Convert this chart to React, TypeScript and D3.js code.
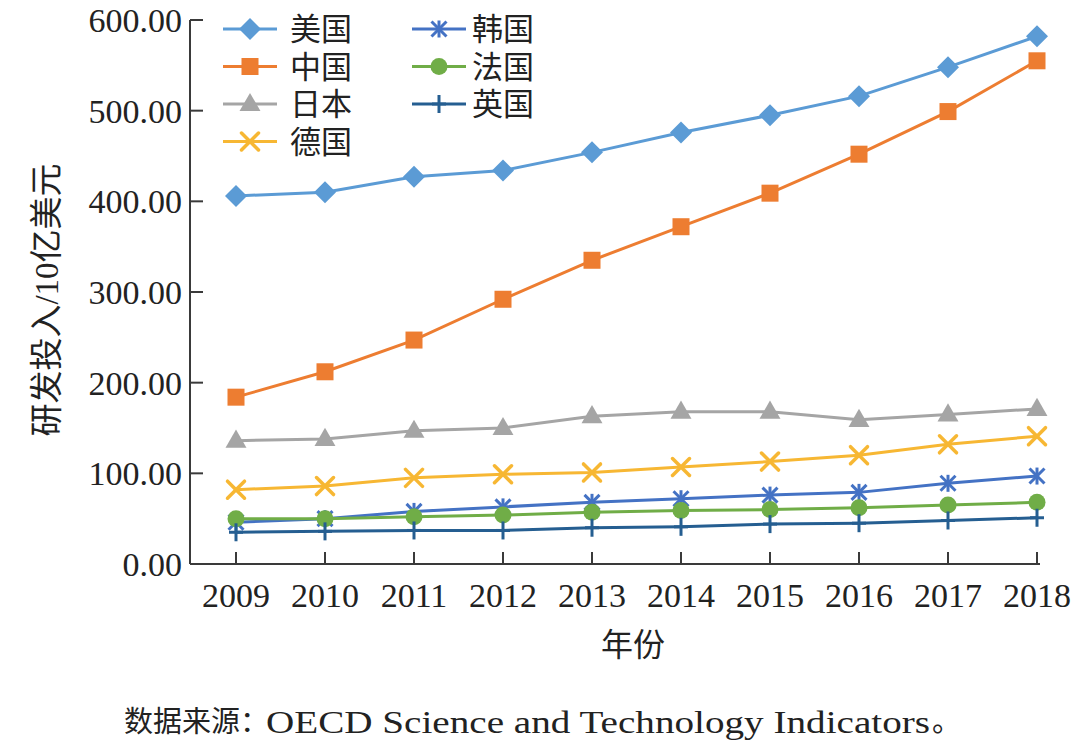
import React from "react";
import * as d3 from "d3";

const years = ["2009","2010","2011","2012","2013","2014","2015","2016","2017","2018"];
const usa = [406, 410, 427, 434, 454, 476, 495, 516, 548, 582];
const china = [184, 212, 247, 292, 335, 372, 409, 452, 499, 555];
const japan = [136, 138, 147, 150, 163, 168, 168, 159, 165, 171];
const germany = [82, 86, 95, 99, 101, 107, 113, 120, 132, 141];
const korea = [46, 50, 58, 63, 68, 72, 76, 79, 89, 97];
const france = [50, 50, 52, 54, 57, 59, 60, 62, 65, 68];
const uk = [35, 36, 37, 37, 40, 41, 44, 45, 48, 51];
const yTicks = [0, 100, 200, 300, 400, 500, 600];

const seriesNames = ["美国", "中国", "日本", "德国", "韩国", "法国", "英国"];
const seriesValues = [usa, china, japan, germany, korea, france, uk];
const seriesColors = ["#5B9BD5", "#ED7D31", "#A5A5A5", "#F7B733", "#4472C4", "#70AD47", "#255E91"];
const seriesMarkers = ["diamond", "square", "triangle", "x", "asterisk", "circle", "plus"];

const SERIF = "'Liberation Serif', 'DejaVu Serif', serif";
const CJK = "'Noto Sans CJK SC', 'Noto Sans', sans-serif";

function Marker({ type, x, y, color }: { type: string; x: number; y: number; color: string }) {
  if (type === "diamond") {
    const r = 11;
    return <path d={`M${x},${y - r}L${x + r},${y}L${x},${y + r}L${x - r},${y}Z`} fill={color} />;
  }
  if (type === "square") {
    return <rect x={x - 8.5} y={y - 8.5} width={17} height={17} fill={color} />;
  }
  if (type === "triangle") {
    const p = d3.symbol().type(d3.symbolTriangle).size(190)();
    return <path d={p || ""} transform={`translate(${x},${y + 1})`} fill={color} />;
  }
  if (type === "circle") {
    return <circle cx={x} cy={y} r={8.5} fill={color} />;
  }
  if (type === "x") {
    const r = 8.5;
    return (
      <g stroke={color} strokeWidth={3.5} strokeLinecap="round">
        <line x1={x - r} y1={y - r} x2={x + r} y2={y + r} />
        <line x1={x - r} y1={y + r} x2={x + r} y2={y - r} />
      </g>
    );
  }
  if (type === "asterisk") {
    const r = 7.5;
    return (
      <g stroke={color} strokeWidth={3}>
        <line x1={x - r} y1={y - r} x2={x + r} y2={y + r} />
        <line x1={x - r} y1={y + r} x2={x + r} y2={y - r} />
        <line x1={x} y1={y - r - 1} x2={x} y2={y + r + 1} />
      </g>
    );
  }
  return (
    <g stroke={color} strokeWidth={3}>
      <line x1={x} y1={y - 9} x2={x} y2={y + 9} />
      <line x1={x - 7} y1={y} x2={x + 7} y2={y} />
    </g>
  );
}

export default function App() {
  const W = 1080, H = 752;
  const axisX = 190, axisY = 564, axisRight = 1040, axisTop = 20;
  const x = d3.scalePoint<string>().domain(years).range([236, 1037]);
  const y = d3.scaleLinear().domain([0, 600]).range([axisY, axisTop]);
  const line = d3.line<number>().x((_, i) => x(years[i]) as number).y((d) => y(d));
  const axisColor = "#3a3a3a";

  const legendPos = [
    { lx: 223, tx: 290, row: 0 },
    { lx: 223, tx: 290, row: 1 },
    { lx: 223, tx: 290, row: 2 },
    { lx: 223, tx: 290, row: 3 },
    { lx: 412, tx: 472, row: 0 },
    { lx: 412, tx: 472, row: 1 },
    { lx: 412, tx: 472, row: 2 },
  ];
  const rowY = (r: number) => 29 + r * 37.5;

  return (
    <svg width={W} height={H} viewBox={`0 0 ${W} ${H}`} style={{ display: "block", position: "absolute", left: 0, top: 0, background: "#fff" }}>
      <rect x={0} y={0} width={W} height={H} fill="#fff" />
      <line x1={axisX} y1={axisTop} x2={axisX} y2={axisY} stroke={axisColor} strokeWidth={2} />
      <line x1={axisX} y1={axisY} x2={axisRight} y2={axisY} stroke={axisColor} strokeWidth={2} />
      {yTicks.map((t) => (
        <g key={t}>
          <line x1={axisX} y1={y(t)} x2={axisX + 13} y2={y(t)} stroke={axisColor} strokeWidth={2} />
          <text x={182} y={y(t)} dy="0.35em" textAnchor="end" fontFamily={SERIF} fontSize={34} fill="#222">
            {t.toFixed(2)}
          </text>
        </g>
      ))}
      {years.map((yr) => (
        <g key={yr}>
          <line x1={x(yr)} y1={axisY} x2={x(yr)} y2={axisY - 12} stroke={axisColor} strokeWidth={2} />
          <text x={x(yr)} y={607} textAnchor="middle" fontFamily={SERIF} fontSize={34} fill="#222">
            {yr}
          </text>
        </g>
      ))}
      <text x={633} y={645} dy="0.35em" textAnchor="middle" fontFamily={CJK} fontSize={32} fill="#222">年份</text>
      <text transform={`translate(46,300) rotate(-90)`} textAnchor="middle" dy="0.35em" fontFamily={CJK} fontSize={33} fill="#222">
        研发投入<tspan fontFamily={SERIF}>/10</tspan>亿美元
      </text>

      {seriesValues.map((vals, si) => (
        <g key={seriesNames[si]}>
          <path d={line(vals) || ""} fill="none" stroke={seriesColors[si]} strokeWidth={3} />
          {vals.map((v, i) => (
            <Marker key={i} type={seriesMarkers[si]} x={x(years[i]) as number} y={y(v)} color={seriesColors[si]} />
          ))}
        </g>
      ))}

      {seriesNames.map((name, si) => {
        const p = legendPos[si];
        const ly = rowY(p.row);
        return (
          <g key={name}>
            <line x1={p.lx} y1={ly} x2={p.lx + 54} y2={ly} stroke={seriesColors[si]} strokeWidth={3} />
            <Marker type={seriesMarkers[si]} x={p.lx + 27} y={ly} color={seriesColors[si]} />
            <text x={p.tx} y={ly} dy="0.36em" fontFamily={CJK} fontSize={31} fill="#222">{name}</text>
          </g>
        );
      })}

      <text x={124} y={722} dy="0.36em" fontFamily={CJK} fontSize={29} fill="#222">数据来源：</text>
      <text x={266} y={733} fontFamily={SERIF} fontSize={31} fill="#222" textLength={664} lengthAdjust="spacingAndGlyphs">
        OECD Science and Technology Indicators
      </text>
      <text x={932} y={722} dy="0.36em" fontFamily={CJK} fontSize={29} fill="#222">。</text>
    </svg>
  );
}
